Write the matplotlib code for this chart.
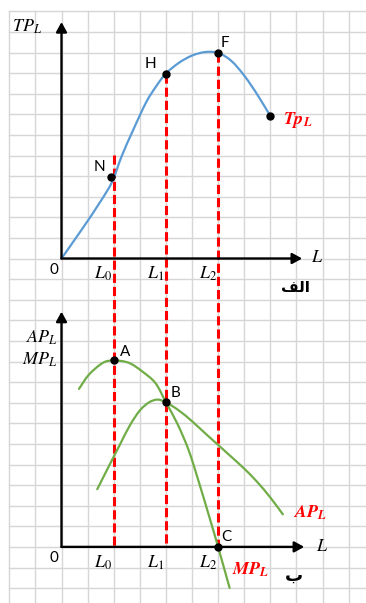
import numpy as np
import matplotlib.pyplot as plt
from matplotlib.path import Path
from matplotlib.patches import PathPatch

plt.rcParams['mathtext.fontset'] = 'stix'

# one grid cell = 1 unit, L0 / L1 / L2 sit on grid lines
L0, L1, L2 = 2, 4, 6
BOT = -14   # origin of the lower panel (in cells below the upper origin)

# upper panel: total product
tp_L = [0, 0.8, 1.5, 1.95, 2.3, 2.75, 3.25, 3.65, 4.0, 4.5, 5.0, 5.5, 6.0, 6.5, 7.0, 7.5, 8.0]
tp_y = [0, 1.45, 2.78, 3.75, 4.95, 6.25, 7.6, 8.4, 8.98, 9.5, 9.85, 10.02, 9.98, 9.6, 8.88, 7.96, 6.92]
tp_pts = {'N': (1.88, 3.96), 'H': (4.0, 8.98), 'F': (6.0, 9.98)}
tp_end = (8.0, 6.92)

# lower panel: marginal and average product
mp_L = [0.67, 1.05, 1.58, 2.0, 2.57, 3.08, 3.6, 4.0, 4.44, 4.87, 5.25, 5.7, 6.0, 6.44]
mp_y = [7.67, 8.36, 8.93, 9.05, 8.94, 8.53, 7.95, 7.02, 5.98, 4.7, 3.2, 1.3, 0.0, -1.99]
ap_L = [1.37, 1.8, 2.24, 2.62, 3.0, 3.36, 3.68, 4.0, 4.5, 5.0, 5.5, 6.0, 6.5, 7.0, 7.5, 8.0, 8.48]
ap_y = [2.8, 3.88, 4.97, 5.9, 6.62, 7.02, 7.15, 7.02, 6.62, 6.1, 5.52, 4.95, 4.38, 3.8, 3.15, 2.4, 1.58]
mp_pts = {'A': (2.0, 9.05), 'B': (4.0, 7.02), 'C': (6.0, 0.0)}

# pixel layout of the picture
W, H = 366, 603
x0, cw = 61.5, 26.1    # origin x and cell width in px
y0, ch = 258.5, 20.6   # origin y and cell height in px

fig = plt.figure(figsize=(W / 100, H / 100), dpi=100)
ax = fig.add_axes([0, 0, 1, 1])
ax.set_xlim(-x0 / cw, (W - x0) / cw)
ax.set_ylim(-(H - y0) / ch, y0 / ch)
ax.axis('off')

# squared paper
gcol = '#d6d6d6'
for i in range(-2, 12):
    ax.plot([i, i], [-17, 12], color=gcol, lw=1.0, zorder=0)
for j in range(-16, 13):
    ax.plot([-2, 12], [j, j], color=gcol, lw=1.0, zorder=0)

arr = dict(arrowstyle='-|>,head_length=0.4,head_width=0.22', mutation_scale=14.5,
           color='black', lw=1.7, shrinkA=0, shrinkB=0)


def axes_at(yb, xtip, ytip):
    ax.annotate('', xy=(0, yb + ytip), xytext=(0, yb), arrowprops=arr, zorder=4)
    ax.annotate('', xy=(xtip, yb), xytext=(0, yb), arrowprops=arr, zorder=4)


def smooth_curve(xs, ys, color, dy=0):
    # cubic bezier pieces through every read point (catmull-rom handles)
    p = np.column_stack([xs, np.array(ys) + dy])
    verts = [p[0]]
    codes = [Path.MOVETO]
    for k in range(len(p) - 1):
        a = p[k - 1] if k > 0 else p[k]
        b = p[k + 2] if k + 2 < len(p) else p[k + 1]
        verts += [p[k] + (p[k + 1] - a) / 6, p[k + 1] - (b - p[k]) / 6, p[k + 1]]
        codes += [Path.CURVE4] * 3
    ax.add_patch(PathPatch(Path(verts, codes), fill=False, edgecolor=color,
                           lw=1.6, zorder=3, capstyle='round'))


axes_at(0, 9.22, 11.48)
axes_at(BOT, 9.3, 11.42)

# red guide lines
red = '#ff0000'
for x, top in [(L0, 5.02), (L1, tp_pts['H'][1]), (L2, tp_pts['F'][1])]:
    ax.plot([x, x], [top, BOT], color=red, lw=2.2, dashes=(3, 1.3), zorder=2)

# curves
smooth_curve(tp_L, tp_y, '#5b9bd5')
smooth_curve(mp_L, mp_y, '#70ad47', BOT)
smooth_curve(ap_L, ap_y, '#70ad47', BOT)

# marked points
pts = list(tp_pts.values()) + [tp_end] + [(x, y + BOT) for x, y in mp_pts.values()]
ax.plot([p[0] for p in pts], [p[1] for p in pts], 'o', color='black', ms=5, zorder=5)

sans = dict(family='Lato', fontsize=11, ha='center', va='center', color='black')
ax.text(1.47, 4.44, 'N', **sans)
ax.text(3.41, 9.44, 'H', **sans)
ax.text(6.26, 10.46, 'F', **sans)
ax.text(2.42, BOT + 9.48, 'A', **sans)
ax.text(4.36, BOT + 7.49, 'B', **sans)
ax.text(6.3, BOT + 0.5, 'C', **sans)
ax.text(-0.28, -0.56, '0', **sans)
ax.text(-0.28, BOT - 0.52, '0', **sans)

# axis names
mt = dict(fontsize=13, ha='center', va='center')
ax.text(-1.33, 11.24, r'$TP_L$', **mt)
ax.text(9.8, 0.05, r'$L$', **mt)
ax.text(9.97, BOT + 0.05, r'$L$', **mt)
ax.text(-0.15, BOT + 10.17, r'$AP_L$', fontsize=13, ha='right', va='center')
ax.text(-0.15, BOT + 9.1, r'$MP_L$', fontsize=13, ha='right', va='center')

L_ticks = [L0, L1, L2]
L_names = [r'$L_0$', r'$L_1$', r'$L_2$']
for x, s in zip(L_ticks, L_names):
    ax.text(x - 0.4, -0.75, s, **mt)
    ax.text(x - 0.4, BOT - 0.75, s, **mt)

# curve names
rt = dict(fontsize=13, color=red, ha='center', va='center')
ax.text(9.07, 6.72, r'$\mathbfit{Tp}_{\mathbfit{L}}$', **rt)
ax.text(9.53, BOT + 1.65, r'$\mathbfit{AP}_{\mathbfit{L}}$', **rt)
ax.text(7.25, BOT - 1.1, r'$\mathbfit{MP}_{\mathbfit{L}}$', **rt)

# panel tags (Arabic, shaped glyphs in visual order)
ax.text(8.95, -1.43, '\ufed2\ufedf\ufe8d', family='DejaVu Sans', fontweight='bold',
        fontsize=11, ha='center', va='center')
ax.text(8.92, BOT - 1.4, '\u0628', family='DejaVu Sans', fontweight='bold',
        fontsize=13, ha='center', va='center')

fig.savefig('out.png', dpi=100)
